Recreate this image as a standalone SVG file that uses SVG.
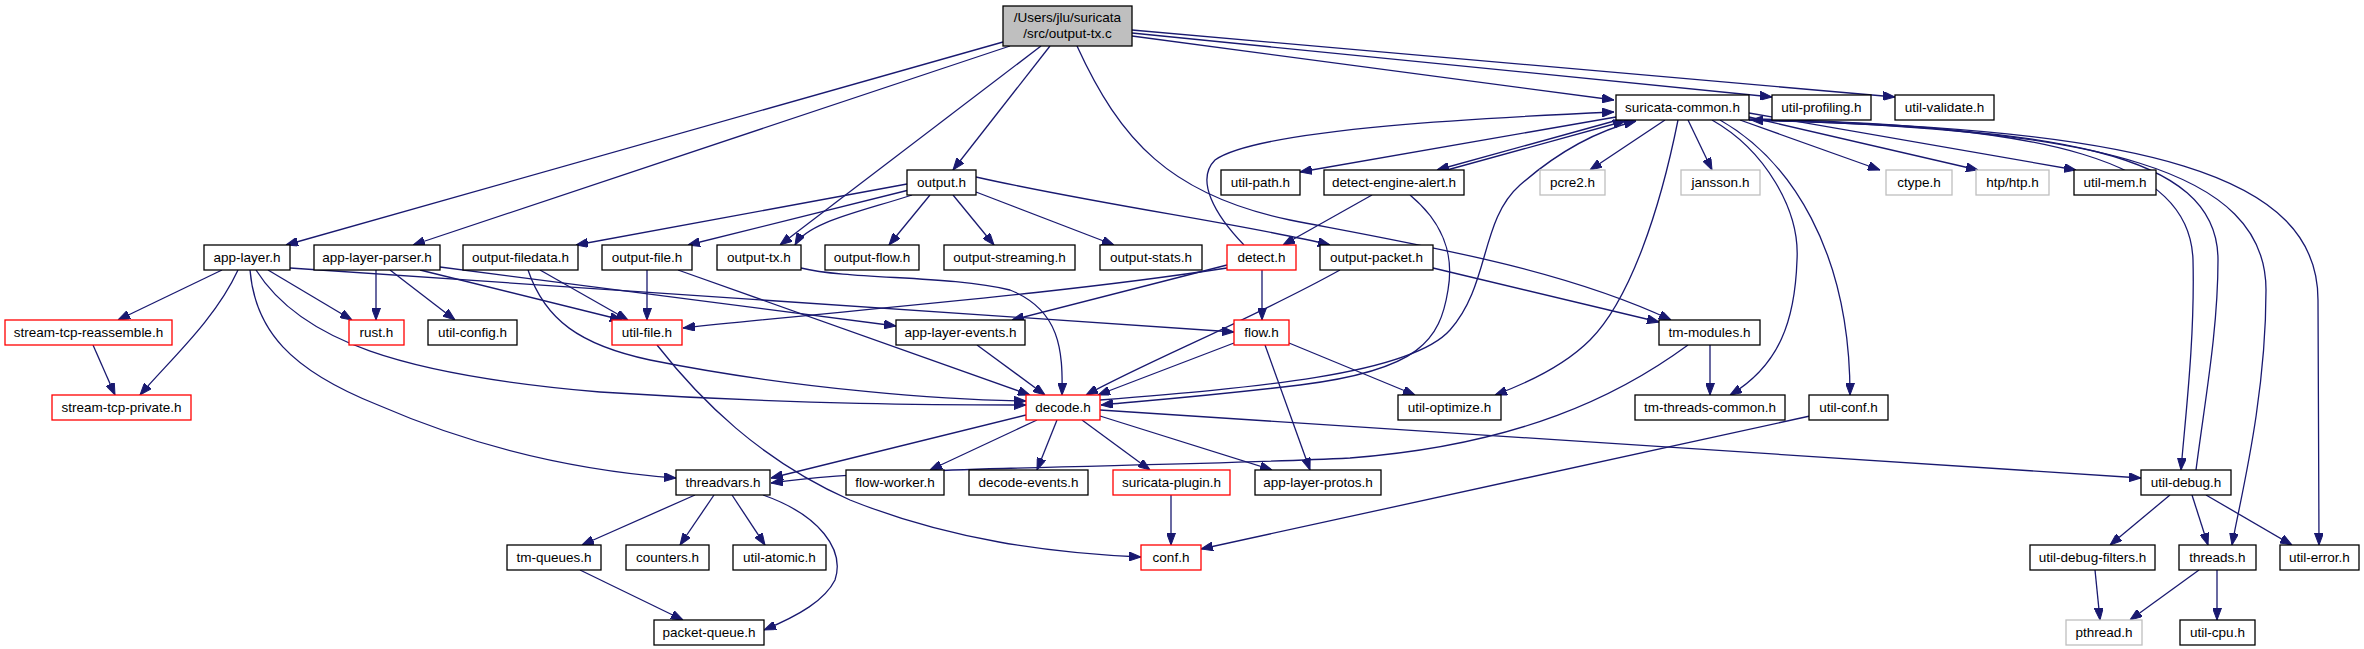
<svg xmlns="http://www.w3.org/2000/svg" width="2364" height="649" viewBox="0 0 2364 649">
<style>
.n rect{fill:#fff;stroke:#000;stroke-width:1.3}
.n.r rect{stroke:#f00}
.n.g rect{stroke:#bfbfbf}
#root rect{fill:#bfbfbf}
text{font-family:"Liberation Sans",Arial,Helvetica,sans-serif;font-size:13.5px;text-anchor:middle;fill:#000}
#edges path{fill:none;stroke:#191970;stroke-width:1.3;marker-end:url(#a)}
</style>
<defs>
<marker id="a" viewBox="0 0 12 9" refX="12" refY="4.5" markerWidth="12" markerHeight="9" markerUnits="userSpaceOnUse" orient="auto">
<path d="M0,0 L12,4.5 L0,9 z" fill="#191970" stroke="#191970" stroke-width="1"/>
</marker>
</defs>
<rect width="2364" height="649" fill="#fff"/>
<g id="edges">
<path d="M1003,42 L286,245"/>
<path d="M1010,46 L413,245"/>
<path d="M1050,46 L953,170"/>
<path d="M1041,46 L780,245"/>
<path d="M1077,46 C1120,140 1170,195 1290,220 C1420,245 1560,268 1671,320"/>
<path d="M1132,36 L1614,100"/>
<path d="M1132,33 L1772,97"/>
<path d="M1132,30 L1895,97"/>
<path d="M907,184 L576,245"/>
<path d="M909,190 L688,245"/>
<path d="M912,195 C860,212 808,222 795,245"/>
<path d="M930,195 L889,245"/>
<path d="M953,195 L994,245"/>
<path d="M976,192 L1114,245"/>
<path d="M976,177 C1100,205 1250,225 1330,245"/>
<path d="M1616,117 L1300,172"/>
<path d="M1618,120 L1437,170"/>
<path d="M1447,170 L1625,121"/>
<path d="M1665,120 L1590,170"/>
<path d="M1688,120 L1712,170"/>
<path d="M1678,120 C1660,210 1630,300 1590,340 C1565,365 1530,382 1495,395"/>
<path d="M1712,120 C1765,150 1800,210 1797,260 C1795,320 1780,365 1730,395"/>
<path d="M1720,120 C1790,160 1850,250 1850,395"/>
<path d="M1740,120 L1880,170"/>
<path d="M1749,117 L1978,170"/>
<path d="M1749,113 L2076,170"/>
<path d="M1749,119 C2050,125 2190,160 2193,260 C2195,340 2185,420 2181,470"/>
<path d="M2196,470 C2205,400 2218,330 2218,260 C2218,150 2050,128 1751,120"/>
<path d="M1749,120 C2100,128 2266,170 2266,290 C2266,400 2240,500 2232,545"/>
<path d="M1749,120 C2150,128 2318,175 2318,300 L2319,545"/>
<path d="M1372,195 L1283,245"/>
<path d="M1410,195 C1440,220 1455,250 1448,290 C1440,340 1420,370 1300,385 C1200,397 1130,402 1101,405"/>
<path d="M1100,400 C1250,388 1410,375 1450,330 C1490,285 1480,220 1520,185 C1560,150 1600,130 1636,121"/>
<path d="M1244,245 C1215,215 1195,180 1215,160 C1260,128 1500,117 1614,112"/>
<path d="M1262,270 L1262,320"/>
<path d="M1227,265 L1012,320"/>
<path d="M1227,268 C1050,295 850,310 683,328"/>
<path d="M1340,270 C1250,320 1150,360 1086,395"/>
<path d="M1433,268 L1659,322"/>
<path d="M1234,343 L1098,395"/>
<path d="M1289,343 L1415,395"/>
<path d="M1265,345 L1310,470"/>
<path d="M222,270 L118,320"/>
<path d="M238,270 C215,320 170,360 140,395"/>
<path d="M268,270 L352,320"/>
<path d="M250,270 C255,330 290,370 378,405 C470,445 570,470 676,478"/>
<path d="M256,270 C300,340 400,375 600,392 C800,405 950,405 1026,405"/>
<path d="M290,268 L1234,332"/>
<path d="M376,270 L376,320"/>
<path d="M390,270 L455,320"/>
<path d="M420,270 L622,320"/>
<path d="M440,267 L896,326"/>
<path d="M540,270 L628,320"/>
<path d="M528,270 C545,320 580,345 650,360 C800,390 950,400 1026,401"/>
<path d="M647,270 L647,320"/>
<path d="M678,270 L1030,395"/>
<path d="M801,268 C850,280 950,275 1010,290 C1060,310 1063,350 1062,395"/>
<path d="M977,345 L1045,395"/>
<path d="M1026,415 L771,478"/>
<path d="M1037,420 L930,470"/>
<path d="M1057,420 L1037,470"/>
<path d="M1082,420 L1150,470"/>
<path d="M1100,416 L1272,470"/>
<path d="M1100,410 L2141,478"/>
<path d="M1710,345 L1710,395"/>
<path d="M1688,345 C1620,395 1520,445 1350,458 C1150,468 900,465 771,483"/>
<path d="M1810,416 L1201,549"/>
<path d="M657,345 C700,400 760,460 850,500 C950,540 1050,553 1141,557"/>
<path d="M1171,495 L1171,545"/>
<path d="M695,495 L582,545"/>
<path d="M714,495 L680,545"/>
<path d="M732,495 L765,545"/>
<path d="M763,495 C820,515 845,550 835,580 C825,600 800,615 764,630"/>
<path d="M580,570 L683,620"/>
<path d="M93,345 L115,395"/>
<path d="M2170,495 L2110,545"/>
<path d="M2192,495 L2208,545"/>
<path d="M2206,495 L2292,545"/>
<path d="M2095,570 L2100,620"/>
<path d="M2199,570 L2130,620"/>
<path d="M2217,570 L2217,620"/>
</g>
<g id="nodes">
<g id="root" class="n"><rect x="1003" y="6" width="129" height="40"/><text x="1067.5" y="22">/Users/jlu/suricata</text><text x="1067.5" y="38">/src/output-tx.c</text></g>
<g id="suricata-common" class="n"><rect x="1616" y="95" width="133" height="25"/><text x="1682.5" y="112">suricata-common.h</text></g>
<g id="util-profiling" class="n"><rect x="1772" y="95" width="99" height="25"/><text x="1821.5" y="112">util-profiling.h</text></g>
<g id="util-validate" class="n"><rect x="1895" y="95" width="99" height="25"/><text x="1944.5" y="112">util-validate.h</text></g>
<g id="output" class="n"><rect x="907" y="170" width="69" height="25"/><text x="941.5" y="187">output.h</text></g>
<g id="util-path" class="n"><rect x="1221" y="170" width="79" height="25"/><text x="1260.5" y="187">util-path.h</text></g>
<g id="detect-engine-alert" class="n"><rect x="1324" y="170" width="140" height="25"/><text x="1394" y="187">detect-engine-alert.h</text></g>
<g id="pcre2" class="n g"><rect x="1540" y="170" width="65" height="25"/><text x="1572.5" y="187">pcre2.h</text></g>
<g id="jansson" class="n g"><rect x="1681" y="170" width="79" height="25"/><text x="1720.5" y="187">jansson.h</text></g>
<g id="ctype" class="n g"><rect x="1886" y="170" width="66" height="25"/><text x="1919" y="187">ctype.h</text></g>
<g id="htp" class="n g"><rect x="1976" y="170" width="73" height="25"/><text x="2012.5" y="187">htp/htp.h</text></g>
<g id="util-mem" class="n"><rect x="2074" y="170" width="82" height="25"/><text x="2115" y="187">util-mem.h</text></g>
<g id="app-layer" class="n"><rect x="204" y="245" width="86" height="25"/><text x="247" y="262">app-layer.h</text></g>
<g id="app-layer-parser" class="n"><rect x="314" y="245" width="126" height="25"/><text x="377" y="262">app-layer-parser.h</text></g>
<g id="output-filedata" class="n"><rect x="463" y="245" width="115" height="25"/><text x="520.5" y="262">output-filedata.h</text></g>
<g id="output-file" class="n"><rect x="602" y="245" width="90" height="25"/><text x="647" y="262">output-file.h</text></g>
<g id="output-tx" class="n"><rect x="717" y="245" width="84" height="25"/><text x="759" y="262">output-tx.h</text></g>
<g id="output-flow" class="n"><rect x="825" y="245" width="94" height="25"/><text x="872" y="262">output-flow.h</text></g>
<g id="output-streaming" class="n"><rect x="944" y="245" width="131" height="25"/><text x="1009.5" y="262">output-streaming.h</text></g>
<g id="output-stats" class="n"><rect x="1100" y="245" width="102" height="25"/><text x="1151" y="262">output-stats.h</text></g>
<g id="detect" class="n r"><rect x="1227" y="245" width="69" height="25"/><text x="1261.5" y="262">detect.h</text></g>
<g id="output-packet" class="n"><rect x="1320" y="245" width="113" height="25"/><text x="1376.5" y="262">output-packet.h</text></g>
<g id="stream-tcp-reassemble" class="n r"><rect x="5" y="320" width="167" height="25"/><text x="88.5" y="337">stream-tcp-reassemble.h</text></g>
<g id="rust" class="n r"><rect x="349" y="320" width="55" height="25"/><text x="376.5" y="337">rust.h</text></g>
<g id="util-config" class="n"><rect x="428" y="320" width="89" height="25"/><text x="472.5" y="337">util-config.h</text></g>
<g id="util-file" class="n r"><rect x="612" y="320" width="70" height="25"/><text x="647" y="337">util-file.h</text></g>
<g id="app-layer-events" class="n"><rect x="896" y="320" width="129" height="25"/><text x="960.5" y="337">app-layer-events.h</text></g>
<g id="flow" class="n r"><rect x="1234" y="320" width="55" height="25"/><text x="1261.5" y="337">flow.h</text></g>
<g id="tm-modules" class="n"><rect x="1659" y="320" width="101" height="25"/><text x="1709.5" y="337">tm-modules.h</text></g>
<g id="stream-tcp-private" class="n r"><rect x="52" y="395" width="139" height="25"/><text x="121.5" y="412">stream-tcp-private.h</text></g>
<g id="decode" class="n r"><rect x="1026" y="395" width="74" height="25"/><text x="1063" y="412">decode.h</text></g>
<g id="util-optimize" class="n"><rect x="1398" y="395" width="103" height="25"/><text x="1449.5" y="412">util-optimize.h</text></g>
<g id="tm-threads-common" class="n"><rect x="1635" y="395" width="150" height="25"/><text x="1710" y="412">tm-threads-common.h</text></g>
<g id="util-conf" class="n"><rect x="1809" y="395" width="79" height="25"/><text x="1848.5" y="412">util-conf.h</text></g>
<g id="threadvars" class="n"><rect x="676" y="470" width="94" height="25"/><text x="723" y="487">threadvars.h</text></g>
<g id="flow-worker" class="n"><rect x="846" y="470" width="98" height="25"/><text x="895" y="487">flow-worker.h</text></g>
<g id="decode-events" class="n"><rect x="969" y="470" width="119" height="25"/><text x="1028.5" y="487">decode-events.h</text></g>
<g id="suricata-plugin" class="n r"><rect x="1113" y="470" width="117" height="25"/><text x="1171.5" y="487">suricata-plugin.h</text></g>
<g id="app-layer-protos" class="n"><rect x="1255" y="470" width="126" height="25"/><text x="1318" y="487">app-layer-protos.h</text></g>
<g id="util-debug" class="n"><rect x="2141" y="470" width="90" height="25"/><text x="2186" y="487">util-debug.h</text></g>
<g id="tm-queues" class="n"><rect x="507" y="545" width="94" height="25"/><text x="554" y="562">tm-queues.h</text></g>
<g id="counters" class="n"><rect x="626" y="545" width="83" height="25"/><text x="667.5" y="562">counters.h</text></g>
<g id="util-atomic" class="n"><rect x="733" y="545" width="93" height="25"/><text x="779.5" y="562">util-atomic.h</text></g>
<g id="conf" class="n r"><rect x="1141" y="545" width="60" height="25"/><text x="1171" y="562">conf.h</text></g>
<g id="util-debug-filters" class="n"><rect x="2030" y="545" width="125" height="25"/><text x="2092.5" y="562">util-debug-filters.h</text></g>
<g id="threads" class="n"><rect x="2179" y="545" width="77" height="25"/><text x="2217.5" y="562">threads.h</text></g>
<g id="util-error" class="n"><rect x="2280" y="545" width="79" height="25"/><text x="2319.5" y="562">util-error.h</text></g>
<g id="packet-queue" class="n"><rect x="654" y="620" width="110" height="25"/><text x="709" y="637">packet-queue.h</text></g>
<g id="pthread" class="n g"><rect x="2066" y="620" width="76" height="25"/><text x="2104" y="637">pthread.h</text></g>
<g id="util-cpu" class="n"><rect x="2180" y="620" width="75" height="25"/><text x="2217.5" y="637">util-cpu.h</text></g>
</g>
</svg>
